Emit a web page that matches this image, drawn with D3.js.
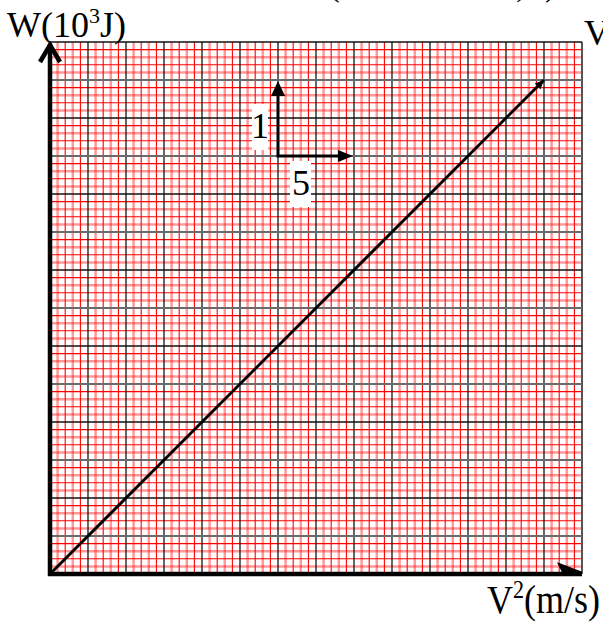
<!DOCTYPE html>
<html>
<head>
<meta charset="utf-8">
<script src="https://cdn.jsdelivr.net/npm/d3@7"></script>
<style>
  body { margin: 0; background: #fff; }
  text { font-family: "Liberation Serif", "Times New Roman", serif; fill: #000; }
</style>
</head>
<body>
<svg width="603" height="624"></svg>
<script>
// line W = f(V^2), values in grid units
var lineV2 = [0, 32.5],
    lineW = [0, 6.5];
// scale indicator: origin and lengths
var scaleOrigin = [15, 5.5],
    scaleLen = [5, 1],
    scaleLabels = ["5", "1"];
var xMax = 35, yMax = 7;

var svg = d3.select("svg"),
    xScale = d3.scaleLinear().domain([0, xMax]).range([50, 582]),
    yScale = d3.scaleLinear().domain([0, yMax]).range([574, 42]);

var g = svg.append("g");

// minor grid lines (5 per major cell)
var xMinor = d3.range(0, 71),
    yMinor = d3.range(0, 71);

function minorStyle(sel) {
  sel.attr("stroke", function(i) { return (i % 5) % 2 == 1 ? "rgba(255,0,0,0.4)" : "#ff0000"; })
     .attr("stroke-width", function(i) { return (i % 5) % 2 == 1 ? 2.5 : 1.1; });
}

g.selectAll(".vminor")
 .data(xMinor.filter(function(i) { return i % 5 != 0; }))
 .enter().append("line")
 .attr("x1", function(i) { return xScale(i * xMax / 70); })
 .attr("x2", function(i) { return xScale(i * xMax / 70); })
 .attr("y1", yScale(0)).attr("y2", yScale(yMax))
 .call(minorStyle);

g.selectAll(".hminor")
 .data(yMinor.filter(function(i) { return i % 5 != 0; }))
 .enter().append("line")
 .attr("y1", function(i) { return yScale(i * yMax / 70); })
 .attr("y2", function(i) { return yScale(i * yMax / 70); })
 .attr("x1", xScale(0)).attr("x2", xScale(xMax))
 .call(minorStyle);

// major grid lines
g.selectAll(".vmajor")
 .data(d3.range(1, 15))
 .enter().append("line")
 .attr("x1", function(k) { return xScale(k * 2.5); })
 .attr("x2", function(k) { return xScale(k * 2.5); })
 .attr("y1", yScale(0)).attr("y2", yScale(yMax))
 .attr("stroke", function(k) { return k == 14 ? "#555" : "#000"; })
 .attr("stroke-width", function(k) { return k == 14 ? 2 : 1.2; });

g.selectAll(".hmajor")
 .data(d3.range(1, 15))
 .enter().append("line")
 .attr("y1", function(k) { return yScale(k * 0.5); })
 .attr("y2", function(k) { return yScale(k * 0.5); })
 .attr("x1", xScale(0)).attr("x2", xScale(xMax))
 .attr("stroke", function(k) { return k % 2 == 1 ? "#6a6a6a" : "#111"; })
 .attr("stroke-width", function(k) { return k % 2 == 1 ? 2.2 : 1.3; });

// the straight line
svg.append("path")
 .datum(d3.zip(lineV2, lineW))
 .attr("d", d3.line().x(function(d) { return xScale(d[0]); }).y(function(d) { return yScale(d[1]); }))
 .attr("stroke", "#000").attr("stroke-width", 3).attr("fill", "none");

svg.append("path")
 .attr("transform", "translate(" + xScale(lineV2[1]) + "," + yScale(lineW[1]) + ") rotate(-45)")
 .attr("d", "M0,0 L-9,-4 L-9,4 Z")
 .attr("fill", "#000");

// axes
svg.append("line")
 .attr("x1", xScale(0)).attr("x2", xScale(0))
 .attr("y1", yScale(0) + 2).attr("y2", yScale(yMax) + 2)
 .attr("stroke", "#000").attr("stroke-width", 4.5);
svg.append("path")
 .attr("d", "M" + (xScale(0) - 10) + "," + (yScale(yMax) + 20) + " L" + xScale(0) + "," + (yScale(yMax) + 3) + " L" + (xScale(0) + 10) + "," + (yScale(yMax) + 20))
 .attr("stroke", "#000").attr("stroke-width", 4.5).attr("fill", "none");

svg.append("line")
 .attr("x1", xScale(0) - 2).attr("x2", xScale(xMax))
 .attr("y1", yScale(0)).attr("y2", yScale(0))
 .attr("stroke", "#000").attr("stroke-width", 4.5);
svg.append("path")
 .attr("d", "M" + (xScale(xMax) - 22) + "," + (yScale(0) - 9) + " L" + (xScale(xMax) - 1) + "," + (yScale(0) - 1) + " L" + (xScale(xMax) - 18) + "," + (yScale(0) - 1) + " Z")
 .attr("stroke", "#000").attr("stroke-width", 3).attr("fill", "#000");

// scale indicator
var ox = xScale(scaleOrigin[0]), oy = yScale(scaleOrigin[1]);
var vx = xScale(scaleOrigin[0] + scaleLen[0]), vy = yScale(scaleOrigin[1] + scaleLen[1]);
svg.append("path")
 .attr("d", "M" + ox + "," + (vy + 10) + " L" + ox + "," + oy + " L" + (vx - 10) + "," + oy)
 .attr("stroke", "#000").attr("stroke-width", 3).attr("fill", "none");
svg.append("path")
 .attr("d", "M" + ox + "," + (vy + 1) + " l-7,15 l14,0 Z").attr("fill", "#000");
svg.append("path")
 .attr("d", "M" + (vx - 1) + "," + oy + " l-15,-6 l0,12 Z").attr("fill", "#000");

svg.append("rect").attr("x", ox - 26).attr("y", oy - 52).attr("width", 16).attr("height", 46).attr("fill", "#fff");
svg.append("text").attr("x", ox - 18).attr("y", oy - 18).attr("text-anchor", "middle")
 .attr("font-size", 36).text(scaleLabels[1]);
svg.append("rect").attr("x", ox + 12).attr("y", oy + 5).attr("width", 21).attr("height", 46).attr("fill", "#fff");
svg.append("text").attr("x", ox + 23).attr("y", oy + 39).attr("text-anchor", "middle")
 .attr("font-size", 36).text(scaleLabels[0]);

// axis titles
var yTitle = svg.append("text").attr("x", 7).attr("y", 37).attr("font-size", 36);
yTitle.append("tspan").text("W(10");
yTitle.append("tspan").attr("font-size", 22).attr("dy", -14).text("3");
yTitle.append("tspan").attr("dy", 14).text("J)");

var xTitle = svg.append("text")
 .attr("transform", "translate(487,613) scale(1,1.1)")
 .attr("font-size", 36);
xTitle.append("tspan").text("V");
xTitle.append("tspan").attr("font-size", 22).attr("dy", -14).text("2");
xTitle.append("tspan").attr("dy", 14).text("(m/s)");

// text cut off at the picture's edges, as in the reference
svg.append("text").attr("x", 584).attr("y", 45).attr("font-size", 36).text("V");
svg.append("text").attr("x", 329).attr("y", -4).attr("font-size", 32).text("(");
svg.append("text").attr("x", 516).attr("y", -3).attr("font-size", 32).text(",");
svg.append("text").attr("x", 545).attr("y", -4).attr("font-size", 32).text(")");
</script>
</body>
</html>
